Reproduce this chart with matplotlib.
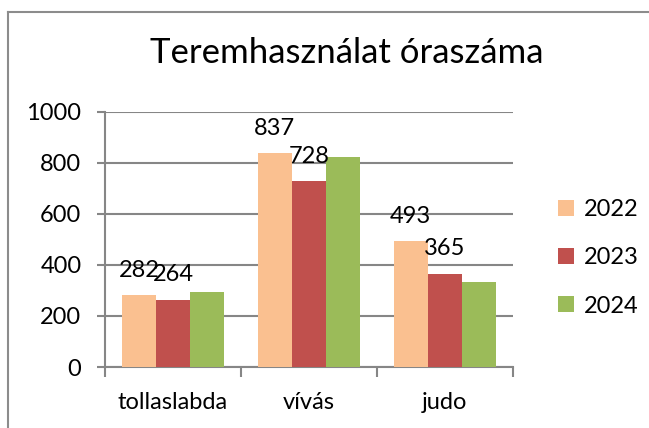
import numpy as np
import matplotlib.pyplot as plt
from matplotlib.lines import Line2D

plt.rcParams['font.family'] = ['Lato', 'DejaVu Sans']

# data
categories = ["tollaslabda", "vívás", "judo"]
years = ["2022", "2023", "2024"]
values_2022 = [282, 837, 493]
values_2023 = [264, 728, 365]
values_2024 = [292, 821, 332]
colors = ["#FAC090", "#C0504D", "#9BBB59"]

fig = plt.figure(figsize=(6.49, 4.28), dpi=100)
ax = fig.add_axes([0.1618, 0.1425, 0.628, 0.5965])

x = np.arange(len(categories))
w = 0.25
series = [values_2022, values_2023, values_2024]
for i, (vals, yr, c) in enumerate(zip(series, years, colors)):
    bars = ax.bar(x + (i - 1) * w, vals, width=w, color=c, label=yr, zorder=3)
    # only the first two series carry data labels
    if i < 2:
        for b, v in zip(bars, vals):
            ax.annotate(str(v), (b.get_x() + b.get_width() / 2, v),
                        xytext=(0, 18), textcoords='offset points',
                        ha='center', va='center', fontsize=17, zorder=4)

ax.set_xlim(-0.5, len(categories) - 0.5)
ax.set_ylim(0, 1000)
ax.set_yticks(range(0, 1001, 200))
ax.yaxis.grid(True, color="#868686", linewidth=1.5, zorder=0)

ax.set_xticks(x)
ax.set_xticklabels(categories, fontsize=17)
ax.set_xticks(np.arange(-0.5, len(categories)), minor=True)
ax.tick_params(axis='x', which='major', length=0, pad=18)
ax.tick_params(axis='x', which='minor', length=7, width=1.5, color="#868686")
ax.tick_params(axis='y', length=6, width=1.5, color="#868686", labelsize=17, pad=11)

for s in ['top', 'right']:
    ax.spines[s].set_visible(False)
for s in ['left', 'bottom']:
    ax.spines[s].set_color("#868686")
    ax.spines[s].set_linewidth(1.5)

fig.text(0.535, 0.876, "Teremhasználat óraszáma", ha='center', va='center', fontsize=25)

ax.legend(loc='center left', bbox_to_anchor=(1.06, 0.427), frameon=False,
          fontsize=17, handlelength=0.65, handleheight=0.65, labelspacing=1.15,
          handletextpad=0.45)

# chart area border (only top and left edges visible in the crop)
fig.add_artist(Line2D([8 / 649, 8 / 649], [0, 1 - 12 / 428], color="#8C8C8C", linewidth=1.5))
fig.add_artist(Line2D([8 / 649, 1], [1 - 12 / 428, 1 - 12 / 428], color="#8C8C8C", linewidth=1.5))

fig.savefig("out.png", dpi=100)
